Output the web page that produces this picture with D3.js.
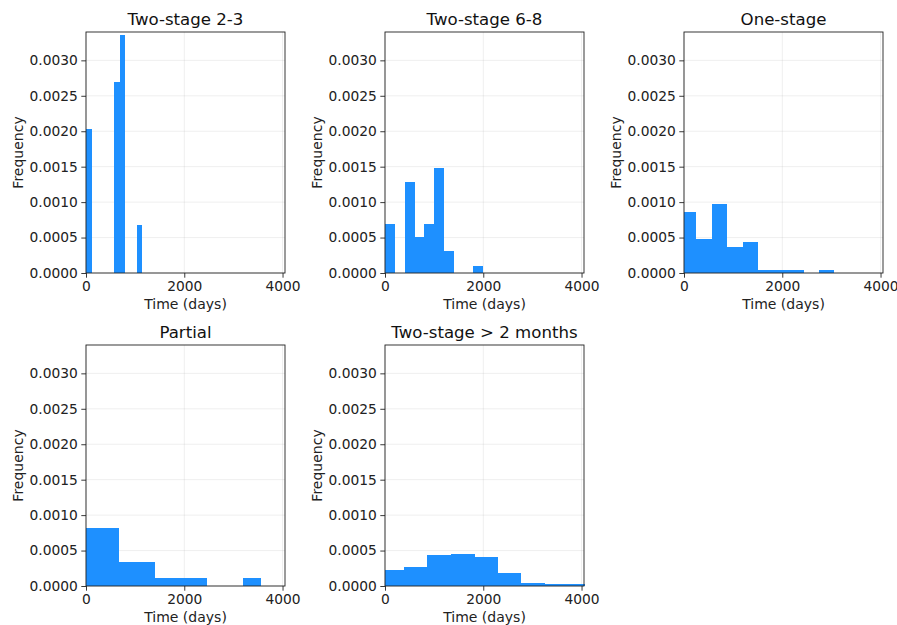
<!DOCTYPE html>
<html>
<head>
<meta charset="utf-8">
<script src="https://cdn.jsdelivr.net/npm/d3@7"></script>
<style>
  body { margin: 0; background: #fff; }
  svg { display: block; font-family: "DejaVu Sans", sans-serif; }
</style>
</head>
<body>
<div id="chart"></div>
<script>
// Panel titles
var titles = ["Two-stage 2-3", "Two-stage 6-8", "One-stage", "Partial", "Two-stage > 2 months"];

// Histogram bin edges (days) and densities
var edgesTwoStage23 = [0, 116, 230, 345, 460, 575, 685, 801, 915, 1035, 1144];
var densTwoStage23 = [0.00203, 0, 0, 0, 0, 0.00269, 0.00336, 0, 0, 0.00068];

var edgesTwoStage68 = [0, 205, 404, 603, 801, 1000, 1199, 1397, 1600, 1801, 1995];
var densTwoStage68 = [0.000693, 0, 0.00128, 0.000505, 0.000693, 0.001485, 0.000307, 0, 0, 0.000103];

var edgesOneStage = [0, 246, 568, 883, 1198, 1513, 1825, 2138, 2450, 2745, 3060];
var densOneStage = [0.000867, 0.000481, 0.00098, 0.000363, 0.000434, 0.000047, 0.000047, 0.000047, 0, 0.000047];

var edgesPartial = [0, 338, 675, 1040, 1405, 1760, 2115, 2469, 2835, 3199, 3554];
var densPartial = [0.000824, 0.000824, 0.000343, 0.000343, 0.00011, 0.00011, 0.00011, 0, 0, 0.00011];

var edgesTwoStage2m = [0, 383, 862, 1347, 1826, 2304, 2762, 3255, 4075];
var densTwoStage2m = [0.000226, 0.000273, 0.000434, 0.000448, 0.000405, 0.000184, 0.000042, 0.000028];

// Tick values
var xTicks = [0, 2000, 4000];
var yTicks = [0, 0.0005, 0.0010, 0.0015, 0.0020, 0.0025, 0.0030];

var panels = [
  {title: titles[0], edges: edgesTwoStage23, dens: densTwoStage23},
  {title: titles[1], edges: edgesTwoStage68, dens: densTwoStage68},
  {title: titles[2], edges: edgesOneStage, dens: densOneStage},
  {title: titles[3], edges: edgesPartial, dens: densPartial},
  {title: titles[4], edges: edgesTwoStage2m, dens: densTwoStage2m}
];

// Layout
var W = 897, H = 625;
var pw = 199, ph = 241;
var lefts = [86, 385, 684];
var tops = [32, 345];

var x = d3.scaleLinear().domain([0, 4050]).range([0, pw]);
var y = d3.scaleLinear().domain([0, 0.0034]).range([ph, 0]);

var svg = d3.select("#chart").append("svg")
    .attr("width", W)
    .attr("height", H);

svg.append("rect").attr("width", W).attr("height", H).attr("fill", "#fff");

panels.forEach(function(p, i) {
  var col = i % 3, row = Math.floor(i / 3);
  var g = svg.append("g")
      .attr("transform", "translate(" + lefts[col] + "," + tops[row] + ")");

  // grid
  g.selectAll(".gx").data(xTicks).enter().append("line")
      .attr("x1", function(d) { return x(d); })
      .attr("x2", function(d) { return x(d); })
      .attr("y1", 0).attr("y2", ph)
      .attr("stroke", "#b0b0b0").attr("stroke-opacity", 0.2).attr("stroke-width", 1);
  g.selectAll(".gy").data(yTicks).enter().append("line")
      .attr("x1", 0).attr("x2", pw)
      .attr("y1", function(d) { return y(d); })
      .attr("y2", function(d) { return y(d); })
      .attr("stroke", "#b0b0b0").attr("stroke-opacity", 0.2).attr("stroke-width", 1);

  // bars
  var bins = p.dens.map(function(d, k) {
    return {x0: p.edges[k], x1: p.edges[k + 1], v: d};
  }).filter(function(b) { return b.v > 0; });

  g.selectAll("rect.bar").data(bins).enter().append("rect")
      .attr("class", "bar")
      .attr("x", function(d) { return x(d.x0); })
      .attr("width", function(d) { return x(d.x1) - x(d.x0); })
      .attr("y", function(d) { return y(d.v); })
      .attr("height", function(d) { return ph - y(d.v); })
      .attr("fill", "#1e90ff")
      .attr("shape-rendering", "crispEdges");

  // axes
  var xAxis = d3.axisBottom(x).tickValues(xTicks).tickFormat(d3.format("d"))
      .tickSize(4.7).tickPadding(3.5);
  var yAxis = d3.axisLeft(y).tickValues(yTicks).tickFormat(d3.format(".4f"))
      .tickSize(4.7).tickPadding(3.5);

  var gx = g.append("g").attr("transform", "translate(0," + ph + ")").call(xAxis);
  var gy = g.append("g").call(yAxis);
  [gx, gy].forEach(function(a) {
    a.select(".domain").remove();
    a.selectAll("line").attr("stroke", "#222").attr("stroke-width", 0.9);
    a.selectAll("text").attr("fill", "#222").style("font-size", "13.8px")
        .style("font-family", "'DejaVu Sans', sans-serif");
  });

  // frame
  g.append("rect")
      .attr("width", pw).attr("height", ph)
      .attr("fill", "none").attr("stroke", "#222").attr("stroke-width", 0.9);

  // title and labels
  g.append("text")
      .attr("x", pw / 2).attr("y", -7)
      .attr("text-anchor", "middle")
      .style("font-size", "16.6px")
      .attr("fill", "#111")
      .text(p.title);

  g.append("text")
      .attr("x", pw / 2).attr("y", ph + 35.5)
      .attr("text-anchor", "middle")
      .style("font-size", "14px")
      .attr("fill", "#222")
      .text("Time (days)");

  g.append("text")
      .attr("transform", "rotate(-90)")
      .attr("x", -ph / 2).attr("y", -63)
      .attr("text-anchor", "middle")
      .style("font-size", "14px")
      .attr("fill", "#222")
      .text("Frequency");
});
</script>
</body>
</html>
